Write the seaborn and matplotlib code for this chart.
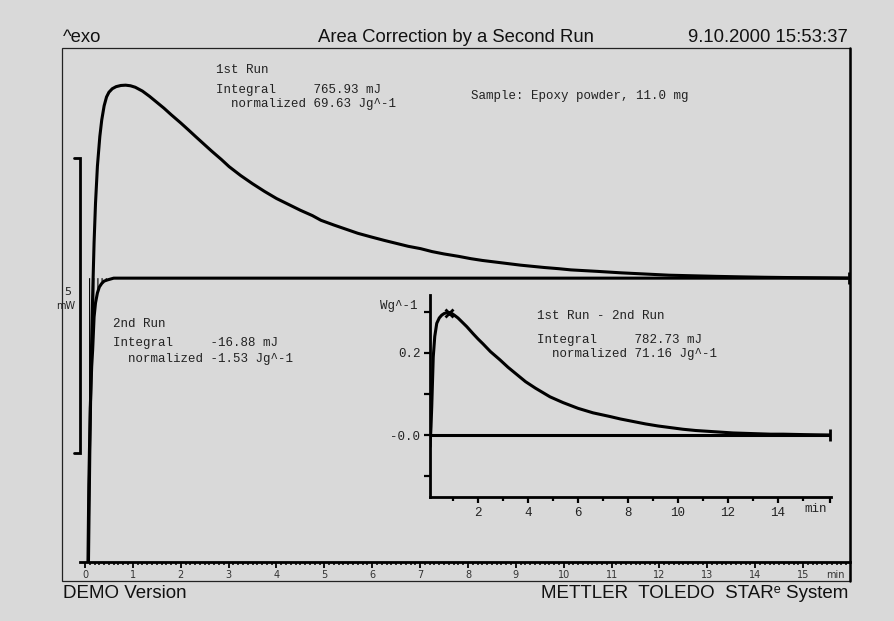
import numpy as np
import seaborn as sns
import matplotlib
matplotlib.use('Agg')
from matplotlib import pyplot as plt
from matplotlib.patches import Rectangle
from matplotlib.lines import Line2D

# 1st run, heat flow in mW vs time in min
run1_t = [0.07, 0.10, 0.13, 0.16, 0.19, 0.22, 0.26, 0.31, 0.35, 0.40, 0.45, 0.50, 0.57, 0.65, 0.75,
          0.85, 0.95, 1.05, 1.2, 1.35, 1.5, 1.65, 1.8, 2.0, 2.15, 2.31, 2.5, 2.65, 2.85, 3.01, 3.25,
          3.5, 3.75, 4.0, 4.25, 4.5, 4.75, 4.93, 5.2, 5.45, 5.7, 5.97, 6.25, 6.5, 6.75, 7.01, 7.25,
          7.5, 7.8, 8.06, 8.3, 8.6, 8.85, 9.10, 9.35, 9.6, 9.9, 10.15, 10.7, 11.2, 11.7, 12.2, 12.7,
          13.2, 13.7, 14.2, 14.6, 15.0, 15.5, 15.95]
run1_mw = [-5.0, -3.0, -1.4, -0.3, 0.6, 1.27, 1.9, 2.40, 2.68, 2.92, 3.07, 3.15, 3.21, 3.245, 3.265,
           3.27, 3.26, 3.235, 3.17, 3.08, 2.98, 2.88, 2.77, 2.63, 2.52, 2.40, 2.26, 2.15, 2.01, 1.89,
           1.74, 1.60, 1.47, 1.35, 1.25, 1.15, 1.06, 0.98, 0.90, 0.83, 0.76, 0.70, 0.64, 0.59, 0.54,
           0.50, 0.45, 0.41, 0.37, 0.33, 0.30, 0.27, 0.245, 0.22, 0.20, 0.18, 0.16, 0.14, 0.115, 0.09,
           0.07, 0.05, 0.04, 0.03, 0.022, 0.015, 0.011, 0.008, 0.004, 0.0]

# 2nd run
run2_t = [0.06, 0.08, 0.11, 0.14, 0.16, 0.19, 0.22, 0.26, 0.30, 0.35, 0.40, 0.47, 0.60, 15.95]
run2_mw = [-5.0, -3.5, -2.2, -1.5, -1.22, -0.66, -0.42, -0.25, -0.15, -0.09, -0.05, -0.03, 0.0, 0.0]

# 1st run - 2nd run, normalized (W/g)
diff_t = [0.08, 0.12, 0.15, 0.18, 0.21, 0.27, 0.35, 0.45, 0.55, 0.65, 0.75, 0.85, 0.95, 1.05, 1.2,
          1.35, 1.55, 1.8, 2.0, 2.2, 2.5, 2.88, 3.2, 3.5, 3.9, 4.3, 4.88, 5.4, 6.0, 6.6, 7.28, 7.7,
          8.2, 8.7, 9.2, 9.7, 10.2, 10.7, 11.2, 11.7, 12.2, 12.7, 13.2, 13.7, 14.2, 15.0, 15.5, 16.1]
diff_wg = [-0.03, 0.02, 0.07, 0.13, 0.19, 0.24, 0.272, 0.285, 0.292, 0.296, 0.298, 0.298, 0.296, 0.292,
           0.285, 0.276, 0.264, 0.247, 0.234, 0.222, 0.203, 0.183, 0.165, 0.150, 0.13, 0.114, 0.093,
           0.079, 0.065, 0.054, 0.045, 0.039, 0.033, 0.027, 0.022, 0.018, 0.014, 0.011, 0.009, 0.007,
           0.005, 0.004, 0.003, 0.002, 0.002, 0.001, 0.0005, 0.0]
diff_base_t = [0.08, 16.1]
diff_base_wg = [0.0, 0.0]
peak_t, peak_wg = 0.85, 0.298

main_ticks = list(range(16))
inset_ticks = [2, 4, 6, 8, 10, 12, 14, 16.1]
inset_labels = ['2', '4', '6', '8', '10', '12', '14', '']
inset_yticks = [-0.1, 0.0, 0.1, 0.2, 0.3]
inset_ylabels = ['', '-0.0', '', '0.2', '']

sns.set_theme(style='white')
bg = '#d9d9d9'
plt.rcParams['hatch.linewidth'] = 0.8
plt.rcParams['font.family'] = ['Liberation Sans', 'DejaVu Sans']
mono = 'Liberation Mono'
sans = ['Liberation Sans', 'DejaVu Sans']
line_kw = dict(color='black', lw=2.2, sort=False, estimator=None,
               solid_joinstyle='round', solid_capstyle='butt')

W, H = 895, 621
def fx(px):
    return px / W
def fy(py):
    return 1 - py / H

fig = plt.figure(figsize=(8.95, 6.21), dpi=100, facecolor=bg)

# outer frame
fig.add_artist(Rectangle((fx(62), fy(581)), fx(850) - fx(62), fy(48) - fy(581),
                         transform=fig.transFigure, fill=False, lw=0.9, ec='#222222'))
fig.add_artist(Line2D([fx(850), fx(850)], [fy(48), fy(581)], transform=fig.transFigure,
                      lw=1.8, color='black'))

# main plot
ax = fig.add_axes([fx(62), fy(562), fx(850) - fx(62), fy(48) - fy(562)])
ax.set_facecolor('none')
sns.lineplot(x=run1_t, y=run1_mw, ax=ax, **line_kw)
sns.lineplot(x=run2_t, y=run2_mw, ax=ax, **line_kw)
ax.fill_between(run2_t, run2_mw, 0, facecolor='none', edgecolor='black', hatch='||||', lw=0)
ax.plot(run2_t[-1], 0, marker='|', ms=9, mew=2, color='black')
ax.set_xlim(-0.48, 15.98)
ax.set_ylim(-4.81, 3.90)

# 5 mW scale bar
sb_lo, sb_mw = -2.97, 5
ax.plot([-0.23, -0.10, -0.10, -0.23], [sb_lo, sb_lo, sb_lo + sb_mw, sb_lo + sb_mw],
        color='black', lw=2, solid_joinstyle='miter')
fig.text(fx(68), fy(292), '5', fontsize=8, family='DejaVu Sans', ha='center', va='center', color='#222')
fig.text(fx(66), fy(306), 'mW', fontsize=7, family='DejaVu Sans', ha='center', va='center', color='#222')

for s in ['top', 'left', 'right']:
    ax.spines[s].set_visible(False)
ax.spines['bottom'].set_bounds(-0.10, 15.97)
ax.spines['bottom'].set_linewidth(2)
ax.spines['bottom'].set_color('black')
ax.set_yticks([])
ax.set_xticks(main_ticks)
ax.set_xticks(np.arange(0, 15.95, 0.1), minor=True)
ax.tick_params(axis='x', which='major', direction='out', length=4, width=1.3, colors='black',
               labelsize=7, labelcolor='#333333', pad=1.5, bottom=True)
ax.tick_params(axis='x', which='minor', direction='out', length=2.2, width=1.1, colors='black', bottom=True)
for lab in ax.get_xticklabels():
    lab.set_family('DejaVu Sans')
fig.text(fx(835), fy(575), 'min', fontsize=7, family='DejaVu Sans', ha='center', va='center', color='#333')

# annotations
def block(px, py, lines, step=13.5):
    for i, t in enumerate(lines):
        fig.text(fx(px), fy(py + i * step), t, family=mono, fontsize=9, va='center', ha='left', color='#222')

fig.text(fx(216), fy(70), '1st Run', family=mono, fontsize=9, va='center', color='#222')
block(216, 90, ['Integral     765.93 mJ', '  normalized 69.63 Jg^-1'])
fig.text(fx(471), fy(96), 'Sample: Epoxy powder, 11.0 mg', family=mono, fontsize=9, va='center', color='#222')
fig.text(fx(113), fy(324), '2nd Run', family=mono, fontsize=9, va='center', color='#222')
block(113, 343, ['Integral     -16.88 mJ', '  normalized -1.53 Jg^-1'], step=16)
fig.text(fx(537), fy(316), '1st Run - 2nd Run', family=mono, fontsize=9, va='center', color='#222')
block(537, 340, ['Integral     782.73 mJ', '  normalized 71.16 Jg^-1'])

# inset: 1st run - 2nd run
ax2 = fig.add_axes([fx(430), fy(497), fx(831) - fx(430), fy(295) - fy(497)])
ax2.set_facecolor('none')
sns.lineplot(x=diff_t, y=diff_wg, ax=ax2, **line_kw)
sns.lineplot(x=diff_base_t, y=diff_base_wg, ax=ax2, **line_kw)
ax2.plot(diff_base_t[-1], 0, marker='|', ms=9, mew=2, color='black')
ax2.plot(peak_t, peak_wg, marker='x', ms=6, mew=2, color='black')
ax2.set_xlim(0.08, 16.12)
ax2.set_ylim(-0.151, 0.341)
for s in ['top', 'right']:
    ax2.spines[s].set_visible(False)
for s in ['left', 'bottom']:
    ax2.spines[s].set_linewidth(2)
    ax2.spines[s].set_color('black')
ax2.set_xticks(inset_ticks)
ax2.set_xticklabels(inset_labels)
ax2.set_xticks(list(range(1, 16, 2)), minor=True)
ax2.set_yticks(inset_yticks)
ax2.set_yticklabels(inset_ylabels)
ax2.tick_params(axis='both', which='major', direction='out', length=4, width=1.6, colors='black',
                labelsize=9, labelcolor='#222', pad=3, bottom=True, left=True)
ax2.tick_params(axis='x', which='minor', direction='out', length=3, width=1.6, colors='black', bottom=True)
for lab in ax2.get_xticklabels() + ax2.get_yticklabels():
    lab.set_family(mono)
fig.text(fx(418), fy(306), 'Wg^-1', family=mono, fontsize=9, ha='right', va='center', color='#222')
fig.text(fx(816), fy(509), 'min', family=mono, fontsize=9, ha='center', va='center', color='#222')

# header and footer
fig.text(fx(63), fy(37), '^exo', family=sans, fontsize=13.3, ha='left', va='center', color='#111')
fig.text(fx(456), fy(37), 'Area Correction by a Second Run', family=sans, fontsize=13.3, ha='center', va='center', color='#111')
fig.text(fx(848), fy(37), '9.10.2000 15:53:37', family=sans, fontsize=13.3, ha='right', va='center', color='#111')
fig.text(fx(63), fy(594), 'DEMO Version', family=sans, fontsize=13.5, ha='left', va='center', color='#111')
fig.text(fx(848), fy(594), 'METTLER  TOLEDO  STAR\u1d49 System', family=sans, fontsize=13.5, ha='right', va='center', color='#111')

fig.savefig('out.png', dpi=100, facecolor=bg)
